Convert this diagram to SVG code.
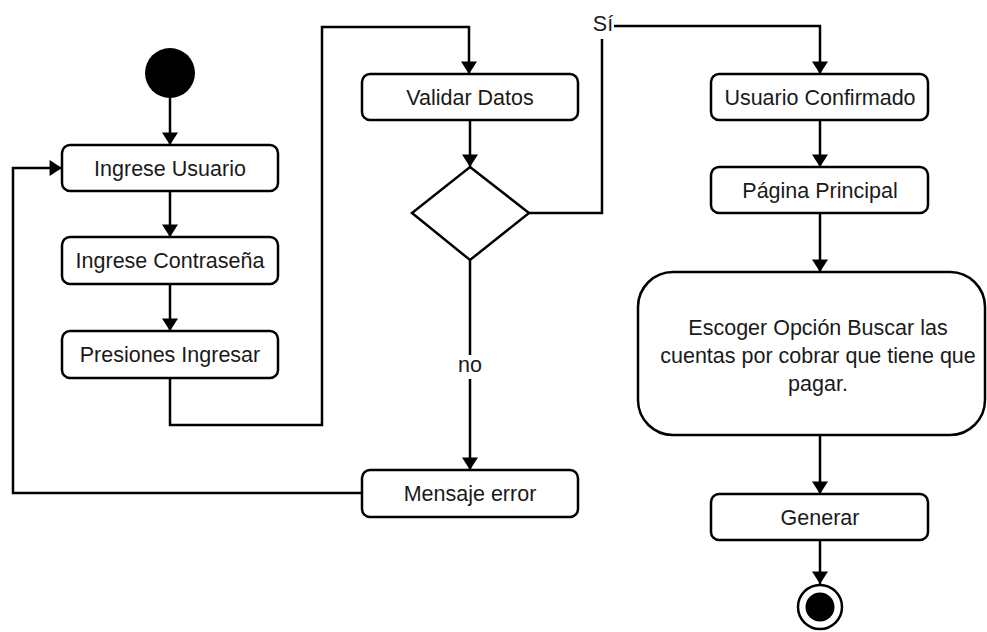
<svg xmlns="http://www.w3.org/2000/svg" width="987" height="632" viewBox="0 0 987 632">
  <style>
    .box { fill: #ffffff; stroke: #000000; stroke-width: 2.5; }
    .line { fill: none; stroke: #000000; stroke-width: 2.5; }
    .lbl { font-family: "Liberation Sans", Arial, sans-serif; font-size: 21.5px; fill: #1a1a1a; text-anchor: middle; }
  </style>
  <defs>
    <marker id="arrow" viewBox="0 0 14 18" refX="14" refY="9" markerWidth="16" markerHeight="16" markerUnits="userSpaceOnUse" orient="auto">
      <path d="M0,0 L14,9 L0,18 Z" fill="#000000"/>
    </marker>
  </defs>
  <rect width="987" height="632" fill="#ffffff"/>

  <g id="connectors">
    <path class="line" d="M170,98 V145" marker-end="url(#arrow)"/>
    <path class="line" d="M170,191 V237" marker-end="url(#arrow)"/>
    <path class="line" d="M170,284 V331" marker-end="url(#arrow)"/>
    <path class="line" d="M170,378 V425 H322 V27 H469 V74" marker-end="url(#arrow)"/>
    <path class="line" d="M470,120 V167" marker-end="url(#arrow)"/>
    <path class="line" d="M529,213 H602 V39"/>
    <path class="line" d="M614,26 H820 V74" marker-end="url(#arrow)"/>
    <path class="line" d="M470,260 V355"/>
    <path class="line" d="M470,379 V470" marker-end="url(#arrow)"/>
    <path class="line" d="M362,493 H13 V168 H62" marker-end="url(#arrow)"/>
    <path class="line" d="M820,120 V167" marker-end="url(#arrow)"/>
    <path class="line" d="M820,213 V272" marker-end="url(#arrow)"/>
    <path class="line" d="M820,435 V494" marker-end="url(#arrow)"/>
    <path class="line" d="M820,540 V584" marker-end="url(#arrow)"/>
    <text class="lbl" x="603" y="31">Sí</text>
    <text class="lbl" x="470" y="372">no</text>
  </g>

  <g id="start">
    <circle cx="170" cy="73" r="25" fill="#000000"/>
  </g>
  <g id="ingrese-usuario">
    <rect class="box" x="62" y="145" width="216" height="46" rx="8"/>
    <text class="lbl" x="170" y="176">Ingrese Usuario</text>
  </g>
  <g id="ingrese-contrasena">
    <rect class="box" x="62" y="237" width="216" height="47" rx="8"/>
    <text class="lbl" x="170" y="268">Ingrese Contraseña</text>
  </g>
  <g id="presiones-ingresar">
    <rect class="box" x="62" y="331" width="216" height="47" rx="8"/>
    <text class="lbl" x="170" y="362">Presiones Ingresar</text>
  </g>
  <g id="validar-datos">
    <rect class="box" x="362" y="74" width="216" height="46" rx="8"/>
    <text class="lbl" x="470" y="105">Validar Datos</text>
  </g>
  <g id="decision">
    <polygon class="box" points="470,167 529,213 470,260 412,213"/>
  </g>
  <g id="mensaje-error">
    <rect class="box" x="362" y="470" width="216" height="47" rx="8"/>
    <text class="lbl" x="470" y="501">Mensaje error</text>
  </g>
  <g id="usuario-confirmado">
    <rect class="box" x="711" y="74" width="217" height="46" rx="8"/>
    <text class="lbl" x="820" y="105">Usuario Confirmado</text>
  </g>
  <g id="pagina-principal">
    <rect class="box" x="711" y="167" width="217" height="46" rx="8"/>
    <text class="lbl" x="820" y="198">Página Principal</text>
  </g>
  <g id="escoger-opcion">
    <rect class="box" x="638" y="272" width="347" height="163" rx="35"/>
    <text class="lbl" x="818" y="335">Escoger Opción Buscar las</text>
    <text class="lbl" x="818" y="363">cuentas por cobrar que tiene que</text>
    <text class="lbl" x="818" y="391">pagar.</text>
  </g>
  <g id="generar">
    <rect class="box" x="711" y="494" width="217" height="46" rx="8"/>
    <text class="lbl" x="820" y="525">Generar</text>
  </g>
  <g id="end">
    <circle cx="820" cy="607" r="22" fill="#ffffff" stroke="#000000" stroke-width="2.5"/>
    <circle cx="820" cy="607" r="14.5" fill="#000000"/>
  </g>
</svg>
